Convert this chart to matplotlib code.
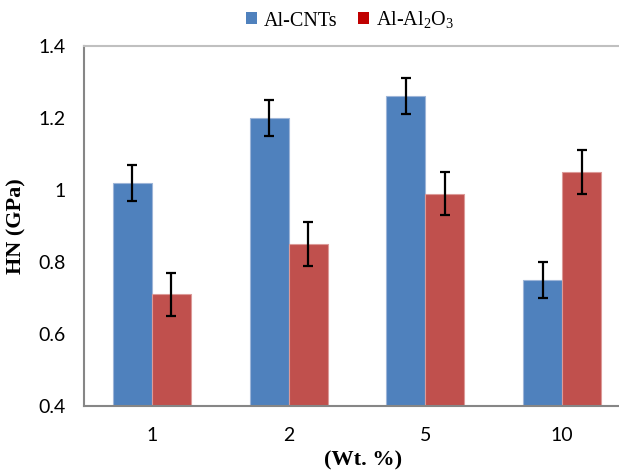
import matplotlib
matplotlib.use("Agg")
import matplotlib.pyplot as plt
import numpy as np
from matplotlib.patches import Patch

plt.rcParams["mathtext.fontset"] = "custom"
plt.rcParams["mathtext.rm"] = "Liberation Serif"
plt.rcParams["mathtext.default"] = "regular"

categories = ["1", "2", "5", "10"]
cnt_vals = [1.02, 1.20, 1.26, 0.75]
cnt_err = [0.05, 0.05, 0.05, 0.05]
al2o3_vals = [0.71, 0.85, 0.99, 1.05]
al2o3_err = [0.06, 0.06, 0.06, 0.06]
series_names = ["Al-CNTs", "Al-Al$_2$O$_3$"]

W, H = 619, 473
fig = plt.figure(figsize=(W / 100, H / 100), dpi=100)
ax = fig.add_axes([83.5 / W, 1 - 406 / H, 547 / W, 360 / H])

x = np.arange(len(categories))
bw = 0.285
blue = "#4F81BD"
red = "#C0504D"
ekw = dict(ecolor="black", elinewidth=1.6, capsize=3.8, capthick=1.6)
ax.bar(x - bw / 2, cnt_vals, bw, color=blue, edgecolor="#9DB5D8", linewidth=0.8,
       yerr=cnt_err, error_kw=ekw, zorder=2)
ax.bar(x + bw / 2, al2o3_vals, bw, color=red, edgecolor="#DC9A98", linewidth=0.8,
       yerr=al2o3_err, error_kw=ekw, zorder=2)

ax.set_xlim(-0.5, 3.5)
ax.set_ylim(0.4, 1.4)
ax.set_yticks([0.4, 0.6, 0.8, 1.0, 1.2, 1.4])
ax.set_yticklabels(["0.4", "0.6", "0.8", "1", "1.2", "1.4"])
ax.set_xticks(x)
ax.set_xticklabels(categories)
ax.tick_params(axis="both", length=0, labelsize=14, colors="black")
for lab in ax.get_xticklabels() + ax.get_yticklabels():
    lab.set_fontfamily("Lato")
ax.tick_params(axis="y", pad=13)
ax.tick_params(axis="x", pad=15)

ax.spines["left"].set_color("#868686")
ax.spines["bottom"].set_color("#868686")
ax.spines["left"].set_linewidth(1.5)
ax.spines["bottom"].set_linewidth(1.5)
ax.spines["top"].set_color("#C0C0C0")
ax.spines["top"].set_linewidth(1.5)
ax.spines["right"].set_visible(False)

ax.set_ylabel("HN (GPa)", fontfamily="Liberation Serif", fontweight="bold",
              fontsize=16, labelpad=8)
ax.set_xlabel("(Wt. %)", fontfamily="Liberation Serif", fontweight="bold",
              fontsize=16, va="center")
ax.xaxis.set_label_coords(363 / W, 1 - 460 / H, transform=fig.transFigure)

handles = [Patch(facecolor=blue, edgecolor="none"),
           Patch(facecolor="#C00000", edgecolor="none")]
fig.legend(handles, series_names, loc="center", bbox_to_anchor=(350 / W, 1 - 20 / H),
           ncol=2, frameon=False, prop={"family": "Liberation Serif", "size": 14.5},
           handlelength=0.55, handleheight=0.55, handletextpad=0.35, columnspacing=1.0,
           borderpad=0.2)

fig.savefig("out.png", dpi=100)
